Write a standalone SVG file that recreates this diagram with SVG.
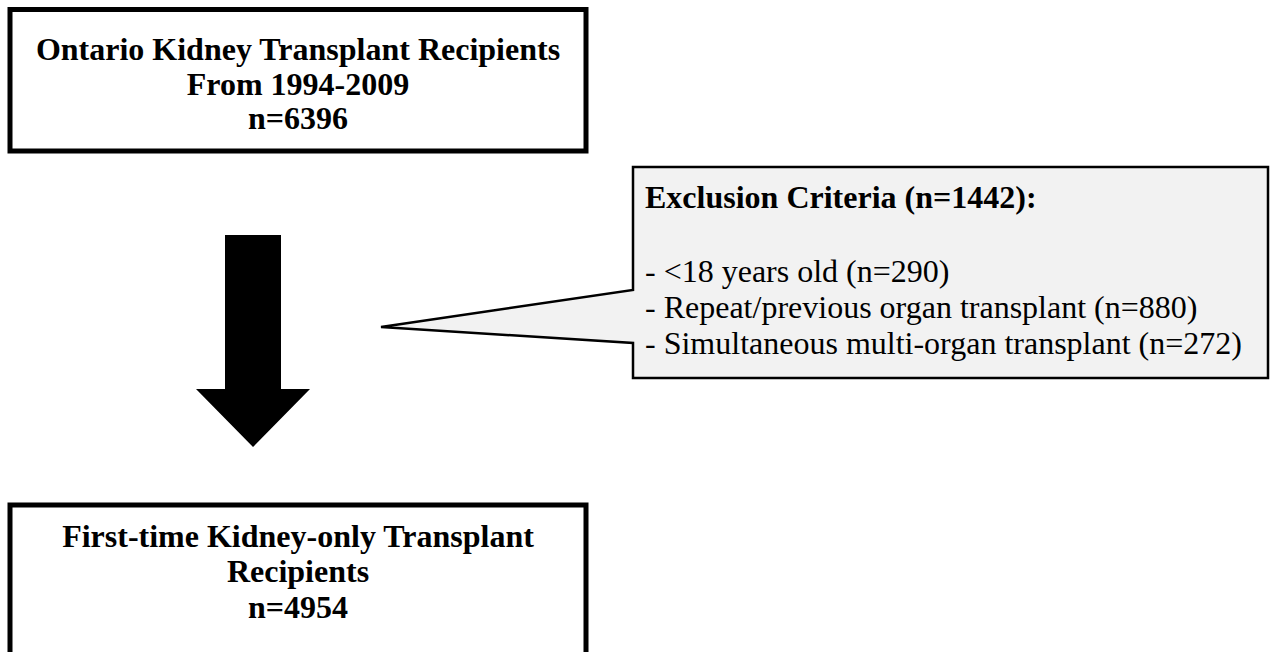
<svg xmlns="http://www.w3.org/2000/svg" width="1274" height="652" viewBox="0 0 1274 652">
<style>
.box{fill:#fff;stroke:#000;stroke-width:5}
.t{font-family:"Liberation Serif","Times New Roman",serif;font-size:32px;fill:#000}
.b{font-weight:bold}
.c{text-anchor:middle}
</style>
<rect width="1274" height="652" fill="#fff"/>
<g id="connectors">
<polygon points="225,235 281,235 281,389 310,389 253,447 196,389 225,389" fill="#000"/>
</g>
<g id="node-top">
<rect class="box" x="10" y="9.5" width="576" height="141.5"/>
<text class="t b c" x="298" y="60">Ontario Kidney Transplant Recipients</text>
<text class="t b c" x="298" y="95">From 1994-2009</text>
<text class="t b c" x="298" y="129">n=6396</text>
</g>
<g id="node-exclusion">
<path d="M633,167 H1268 V378 H633 V343 L381,327 L633,290 Z" fill="#f2f2f2" stroke="#000" stroke-width="2.5" stroke-linejoin="miter"/>
<text class="t b" x="645" y="208">Exclusion Criteria (n=1442):</text>
<text class="t" x="645" y="282">- &lt;18 years old (n=290)</text>
<text class="t" x="645" y="318">- Repeat/previous organ transplant (n=880)</text>
<text class="t" x="645" y="354">- Simultaneous multi-organ transplant (n=272)</text>
</g>
<g id="node-bottom">
<path class="box" d="M10,660 V505 H586 V660"/>
<text class="t b c" x="298" y="547">First-time Kidney-only Transplant</text>
<text class="t b c" x="298" y="582">Recipients</text>
<text class="t b c" x="298" y="618">n=4954</text>
</g>
</svg>
